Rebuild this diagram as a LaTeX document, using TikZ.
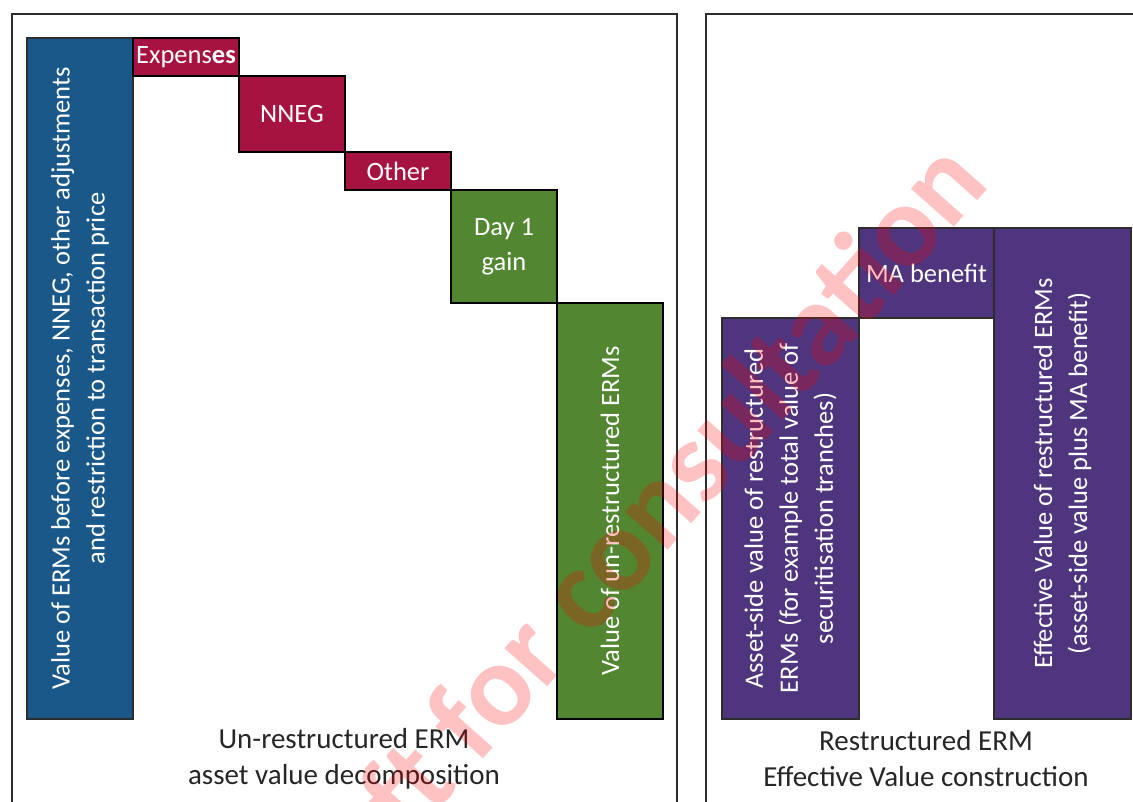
\documentclass[tikz,border=0pt]{standalone}
\usepackage{fontspec}
\setmainfont{Carlito}
\definecolor{ermblue}{RGB}{26,88,137}
\definecolor{expred}{RGB}{166,19,64}
\definecolor{gaingreen}{RGB}{82,134,48}
\definecolor{mapurple}{RGB}{79,53,126}
\definecolor{framegray}{RGB}{45,45,45}
\definecolor{captiongray}{RGB}{38,38,38}

\begin{document}
\begin{tikzpicture}[x=1pt,y=-1pt,
  frame/.style={draw=framegray, line width=2.5pt},
  bar/.style={draw=black, line width=2pt, inner sep=0pt, outer sep=0pt, text=white, align=center, font=\fontsize{26.5}{35}\selectfont},
  pbar/.style={bar, draw=framegray, fill=mapurple},
  caption/.style={align=center, text=captiongray, font=\fontsize{29}{36}\selectfont},
  watermark/.style={text=red, text opacity=0.24, inner sep=0pt, font=\fontsize{118}{118}\selectfont\bfseries}]
\useasboundingbox (0,0) rectangle (1133,802);
% the two panels
\draw[frame] (12,815) -- (12,14) -- (677,14) -- (677,815);
\draw[frame] (706,815) -- (706,14) -- (1145,14);

% un-restructured ERM
\node[bar, fill=ermblue, draw=framegray, rotate=90, minimum width=681pt, minimum height=106pt] (before) at (80,378.5) {Value of ERMs before expenses, NNEG, other adjustments\\and restriction to transaction price};
\node[bar, fill=expred, minimum width=106pt, minimum height=38pt, anchor=north west] (expenses) at (133,38) {Expens\textbf{es}};
\node[bar, fill=expred, minimum width=106pt, minimum height=76pt, anchor=north west] (nneg) at (expenses.south east) {NNEG};
\node[bar, fill=expred, minimum width=106pt, minimum height=38pt, anchor=north west] (other) at (nneg.south east) {Other};
\node[bar, fill=gaingreen, minimum width=106pt, minimum height=113pt, anchor=north west] (dayone) at (other.south east) {Day 1\\gain};
\node[bar, fill=gaingreen, rotate=90, minimum width=416pt, minimum height=106pt, anchor=north east] (unrestr) at (dayone.south east) {Value of un-restructured ERMs};
\node[caption] (leftcap) at (344,759) {Un-restructured ERM\\asset value decomposition};

% restructured ERM
\node[pbar, rotate=90, minimum width=401pt, minimum height=137pt, anchor=north east] (assetside) at (722,318) {Asset-side value of restructured\\ERMs (for example total value of\\securitisation tranches)};
\node[pbar, minimum width=135pt, minimum height=90pt, anchor=north west] (mabenefit) at (859,228) {MA benefit};
\node[pbar, rotate=90, minimum width=491pt, minimum height=137pt, anchor=north east] (effective) at (mabenefit.north east) {Effective Value of restructured ERMs\\(asset-side value plus MA benefit)};
\node[caption] (rightcap) at (926,759) {Restructured ERM\\Effective Value construction};

\node[watermark, rotate=48.5, anchor=base west] (draft) at (297,970) {Draft for consultation};
\end{tikzpicture}
\end{document}
